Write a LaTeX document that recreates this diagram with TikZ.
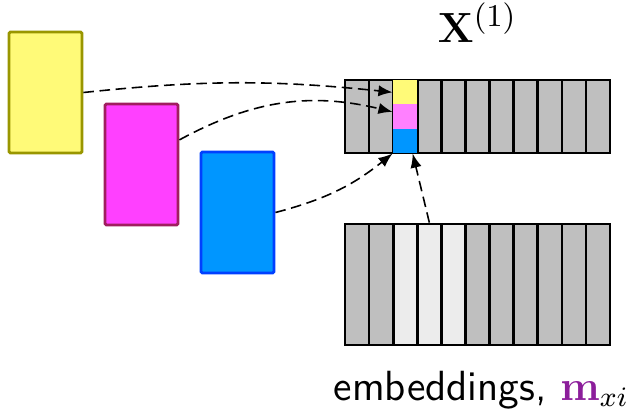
\documentclass[tikz,border=0pt]{standalone}
\usepackage{amsmath}
\usepackage{bm}
\usepackage{xcolor}
\usepackage{tikz}
\usetikzlibrary{arrows.meta}
\definecolor{ylwfill}{RGB}{255,250,120}
\definecolor{ylwdraw}{RGB}{153,150,0}
\definecolor{magfill}{RGB}{255,64,255}
\definecolor{magdraw}{RGB}{160,30,95}
\definecolor{magcell}{RGB}{255,128,255}
\definecolor{blufill}{RGB}{0,150,255}
\definecolor{bludraw}{RGB}{0,64,255}
\definecolor{mpurple}{RGB}{140,30,155}

\begin{document}
\begin{tikzpicture}[x=0.01cm,y=-0.01cm,
% common options for the word boxes:
wordbox/.style = {draw, line width=0.8pt, rounded corners=0.4pt,
            minimum width=0.73cm, minimum height=1.21cm, inner sep=0},
% common options for the matrix cells:
cell/.style = {draw, line width=0.75pt, fill=gray!50, minimum width=0.241cm, inner sep=0},
lightcell/.style = {cell, fill=gray!15},
slot/.style = {minimum width=0.241cm, minimum height=0.243cm, inner sep=0},
link/.style = {dash pattern=on 3pt off 1.6pt, line width=0.45pt,
            -{Latex[length=4pt,width=3.2pt]}}]
\useasboundingbox (0,0) rectangle (631,412);
\node[wordbox, fill=ylwfill, draw=ylwdraw] (Y) at (45.5,92.5) {};
\node[wordbox, fill=magfill, draw=magdraw] (M) at (141.5,164.5) {};
\node[wordbox, fill=blufill, draw=bludraw] (B) at (237.5,212.5) {};
% X^(1), one column filled from the word boxes
\foreach \i in {0,...,10}
  \node[cell, minimum height=0.73cm] (X\i) at (357.05+24.1*\i,116.5) {};
\node[slot, fill=ylwfill] (X2a) at (405.25,92.3) {};
\node[slot, fill=magcell] (X2b) at (405.25,116.5) {};
\node[slot, fill=blufill] (X2c) at (405.25,140.7) {};
% embeddings
\foreach \i/\s in {0/cell,1/cell,2/lightcell,3/lightcell,4/lightcell,5/cell,6/cell,7/cell,8/cell,9/cell,10/cell}
  \node[\s, minimum height=1.21cm] (E\i) at (357.05+24.1*\i,284.5) {};
\node[anchor=base] (title) at (477.5,42) {\fontsize{12.2}{15}\selectfont $\mathbf{X}^{(1)}$};
\node[anchor=base west, inner sep=0] (emb) at (333,400)
  {\large\sffamily embeddings, ${\color{mpurple}\mathbf{m}}_{xi}$};
\draw[link] (Y.east) to[bend left=6] (X2a.west);
\draw[link] (M.33) to[bend left=21] (X2b.160);
\draw[link] (B.east) to[bend right=12] (X2c.south west);
\draw[link] (E3.north) -- (X2c.-60);
\end{tikzpicture}
\end{document}
